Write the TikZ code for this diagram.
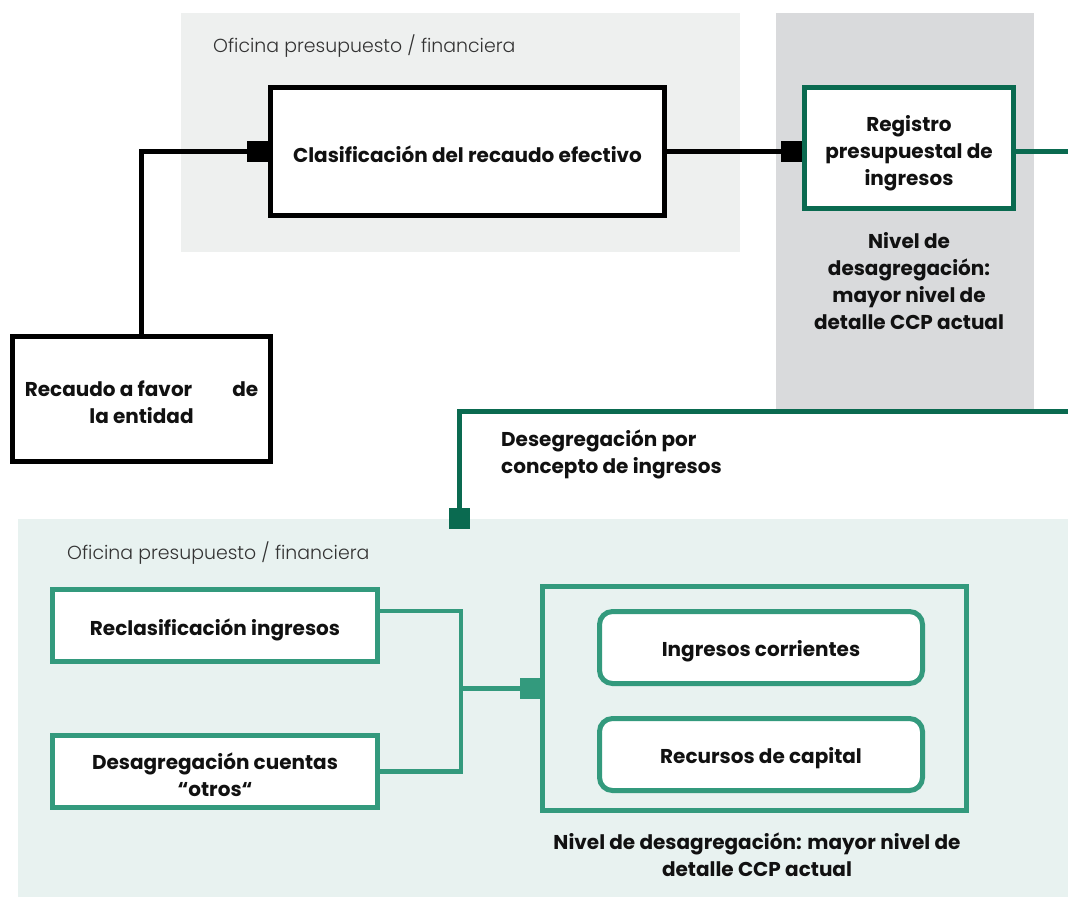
\documentclass[tikz,border=0pt]{standalone}
\usepackage{fontspec}
\setmainfont{Poppins}
\newfontfamily\lightfont{Poppins Light}
\definecolor{panelA}{HTML}{EEF0EF}
\definecolor{panelB}{HTML}{D9DADC}
\definecolor{panelC}{HTML}{E8F2F0}
\definecolor{dkgreen}{HTML}{0A6A50}
\definecolor{mdgreen}{HTML}{339A7D}
\definecolor{txt}{HTML}{111111}
\definecolor{lbl}{HTML}{333333}
\tikzset{
  txtstyle/.style={font=\fontsize{20}{27}\selectfont\bfseries, text=txt, align=center, inner sep=0pt},
  blackbox/.style={draw=black, line width=5pt, fill=white, inner sep=0pt},
  greenbox/.style={draw=dkgreen, line width=5pt, fill=white, inner sep=0pt},
  tealbox/.style={draw=mdgreen, line width=5pt, fill=white, inner sep=0pt},
  plug/.style={minimum size=21pt, inner sep=0pt, outer sep=0pt},
  officelbl/.style={font=\fontsize{18.9}{24}\selectfont\lightfont, text=lbl, anchor=west, inner sep=0pt},
  wire/.style={line width=5pt},
}
\begin{document}
\begin{tikzpicture}[x=1pt,y=-1pt]
\useasboundingbox (0,0) rectangle (1068,897);
% panels
\fill[panelA] (181,13) rectangle (740,252);
\fill[panelB] (776,13) rectangle (1034,411);
\fill[panelC] (18,519) rectangle (1068,897);
\node[officelbl] (off1) at (213,46) {Oficina presupuesto / financiera};
\node[officelbl] (off2) at (67,553) {Oficina presupuesto / financiera};
% top boxes
\node[blackbox, minimum width=394pt, minimum height=128pt] (clas) at (467.5,151.5) {};
\node[txtstyle] (clast) at ([yshift=-3pt]clas.center) {Clasificación del recaudo efectivo};
\node[blackbox, minimum width=258pt, minimum height=125pt] (rec) at (141.5,399) {};
\node[txtstyle] (rect) at ([yshift=-3pt]rec.center) {Recaudo a favor\hspace{40pt}de\\la entidad};
\node[greenbox, minimum width=209pt, minimum height=121pt] (reg) at (909,148) {};
\node[txtstyle] (regt) at ([yshift=-5pt]reg.center) {Registro\\presupuestal de\\ingresos};
\node[txtstyle] (niv1) at (909,281) {Nivel de\\desagregación:\\mayor nivel de\\detalle CCP actual};
\node[txtstyle, align=left, anchor=west] (deseg) at (501,454) {Desegregación por\\concepto de ingresos};
% plugs
\node[plug, fill=black] (sq1) at (257.5,151.5) {};
\node[plug, fill=black] (sq2) at (791.5,151.5) {};
\node[plug, fill=dkgreen] (sq3) at (459.5,518.5) {};
% top connectors
\draw[wire] (rec.north) |- (sq1.west);
\draw[wire] (clas.east) -- (sq2.west);
\coordinate (e1) at (1070,151.5);
\coordinate (e2) at (1070,411);
\draw[wire, dkgreen] ([yshift=-3.5pt]reg.east) -- (e1);
\draw[wire, dkgreen] (e2) -| (sq3.north);
% bottom boxes
\node[tealbox, minimum width=325pt, minimum height=72pt] (recl) at (215,625.5) {};
\node[txtstyle] (reclt) at ([yshift=-4pt]recl.center) {Reclasificación ingresos};
\node[tealbox, minimum width=325pt, minimum height=72pt] (desag) at (215,771.5) {};
\node[txtstyle] (desagt) at ([yshift=-3pt]desag.center) {Desagregación cuentas\\“otros“};
\node[draw=mdgreen, line width=5pt, minimum width=424pt, minimum height=224pt, inner sep=0pt] (big) at (754.5,698.5) {};
\node[tealbox, rounded corners=13pt, minimum width=323pt, minimum height=72pt] (ingc) at (761,647.5) {};
\node[txtstyle] (ingct) at ([yshift=-4pt]ingc.center) {Ingresos corrientes};
\node[tealbox, rounded corners=13pt, minimum width=323pt, minimum height=72pt] (recc) at (761,754.5) {};
\node[txtstyle] (recct) at ([yshift=-4pt]recc.center) {Recursos de capital};
\node[plug, fill=mdgreen] (sq4) at (530.5,688.5) {};
\coordinate (j) at (461,688.5);
\draw[mdgreen, line width=4.5pt] ([yshift=14.5pt]recl.east) -| (j) |- (desag.east);
\draw[mdgreen, line width=4.5pt] (j) -- (sq4.west);
\node[txtstyle] (niv2) at (757,855) {Nivel de desagregación: mayor nivel de\\detalle CCP actual};
\end{tikzpicture}
\end{document}
